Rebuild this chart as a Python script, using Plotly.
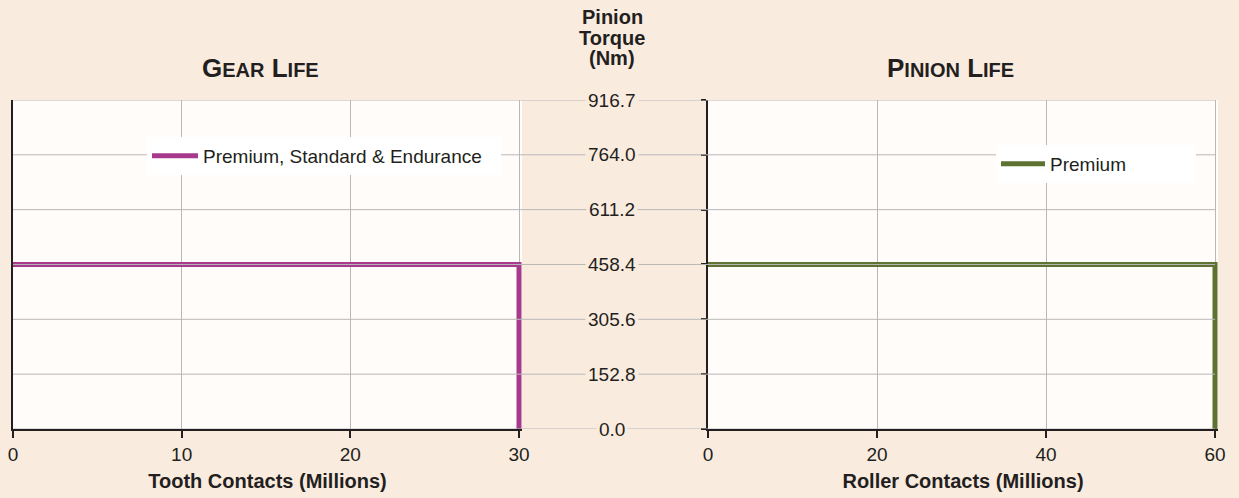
import plotly.graph_objects as go

# ---- data ----
torque_ticks = [0.0, 152.8, 305.6, 458.4, 611.2, 764.0, 916.7]
torque_labels = ["0.0", "152.8", "305.6", "458.4", "611.2", "764.0", "916.7"]

gear_x_ticks = [0, 10, 20, 30]
pinion_x_ticks = [0, 20, 40, 60]

gear_contacts = [0, 30, 30]
gear_torque = [458.4, 458.4, 0]
pinion_contacts = [0, 60, 60]
pinion_torque = [458.4, 458.4, 0]

gear_name = "Premium, Standard & Endurance"
pinion_name = "Premium"

# ---- styling ----
W, H = 1239, 498
BG = "#FAEBDF"
PLOT_BG = "#FFFCF9"
GRID = "#B8B8B8"
DARK = "#231F20"
MAGENTA = "#A83A8E"
GREEN = "#5E7331"
FONT = "Liberation Sans"

def px(x):
    return x / W

def py(y):
    return 1 - y / H

# pixel geometry (axis value 0 -> left edge, last tick -> right edge),
# with a few pixels of extra room so the thick end-lines are not clipped
L0, L1, R0, R1, PAD = 13, 519, 708, 1215, 3
gear_rng = [gear_x_ticks[0], gear_x_ticks[-1] * (1 + PAD / (L1 - L0))]
pin_rng = [pinion_x_ticks[0], pinion_x_ticks[-1] * (1 + PAD / (R1 - R0))]
xl0, xl1 = px(L0), px(L1 + PAD)
xr0, xr1 = px(R0), px(R1 + PAD)
yb, yt = py(429), py(100)

fig = go.Figure()
fig.add_trace(go.Scatter(x=gear_contacts, y=gear_torque, mode="lines", name=gear_name,
                         line=dict(color=MAGENTA, width=5), xaxis="x", yaxis="y",
                         legend="legend", hoverinfo="skip"))
fig.add_trace(go.Scatter(x=pinion_contacts, y=pinion_torque, mode="lines", name=pinion_name,
                         line=dict(color=GREEN, width=5), xaxis="x2", yaxis="y2",
                         legend="legend2", hoverinfo="skip"))

xcommon = dict(showline=True, linecolor=DARK, linewidth=2, ticks="outside", ticklen=7,
               tickwidth=2, tickcolor=DARK, showgrid=True, gridcolor=GRID, gridwidth=1,
               zeroline=False, tickfont=dict(family=FONT, size=19, color=DARK),
               title_font=dict(family=FONT, size=20, color=DARK), title_standoff=10)

ycommon = dict(range=[torque_ticks[0], torque_ticks[-1]], tickvals=torque_ticks,
               showgrid=False, zeroline=False, showticklabels=False, domain=[yb, yt])

fig.update_layout(
    width=W, height=H,
    paper_bgcolor=BG, plot_bgcolor=PLOT_BG,
    margin=dict(l=0, r=0, t=0, b=0, autoexpand=False),
    showlegend=True,
    xaxis=dict(domain=[xl0, xl1], range=gear_rng, tickvals=gear_x_ticks,
               anchor="y", title_text="<b>Tooth Contacts (Millions)</b>", **xcommon),
    xaxis2=dict(domain=[xr0, xr1], range=pin_rng, tickvals=pinion_x_ticks,
                anchor="y2", title_text="<b>Roller Contacts (Millions)</b>", **xcommon),
    yaxis=dict(anchor="x", side="left", showline=True, linecolor=DARK, linewidth=2, ticks="", **ycommon),
    yaxis3=dict(anchor="free", position=px(L1), overlaying="y", side="right", showline=False,
                ticks="outside", ticklen=5, tickwidth=2, tickcolor=DARK, **ycommon),
    yaxis2=dict(anchor="x2", side="left", showline=True, linecolor=DARK, linewidth=2,
                ticks="outside", ticklen=5, tickwidth=2, tickcolor=DARK, **ycommon),
    legend=dict(x=px(147), y=py(137), xanchor="left", yanchor="top", bgcolor="#FFFFFF",
                borderwidth=0, orientation="h", entrywidth=293, itemwidth=46,
                font=dict(family=FONT, size=19, color=DARK)),
    legend2=dict(x=px(996), y=py(145), xanchor="left", yanchor="top", bgcolor="#FFFFFF",
                 borderwidth=0, orientation="h", entrywidth=141, itemwidth=44,
                 font=dict(family=FONT, size=19, color=DARK)),
)

# horizontal gridlines spanning both panels and the centre strip
shapes = []
for v in torque_ticks:
    shapes.append(dict(type="line", xref="paper", yref="y", x0=px(L0), x1=px(R1), y0=v, y1=v,
                       line=dict(color=GRID, width=1), layer="above"))
fig.update_layout(shapes=shapes)

annotations = []
for v, lab in zip(torque_ticks, torque_labels):
    annotations.append(dict(x=px(612), y=v, xref="paper", yref="y", text=lab, showarrow=False,
                            xanchor="center", yanchor="middle", bgcolor=BG, borderpad=2,
                            font=dict(family=FONT, size=19, color=DARK)))

for txt, yy in [("Pinion", 17), ("Torque", 38), ("(Nm)", 58)]:
    annotations.append(dict(x=px(612), y=py(yy), xref="paper", yref="paper", text="<b>" + txt + "</b>",
                            showarrow=False, xanchor="center", yanchor="middle",
                            font=dict(family=FONT, size=20, color=DARK)))

def smallcaps(word_pairs):
    parts = []
    for big, small in word_pairs:
        parts.append(big + "<span style='font-size:20px'>" + small + "</span>")
    return "<b>" + " ".join(parts) + "</b>"

annotations.append(dict(x=px(260), y=py(68), xref="paper", yref="paper",
                        text=smallcaps([("G", "EAR"), ("L", "IFE")]), showarrow=False,
                        xanchor="center", yanchor="middle", font=dict(family=FONT, size=26, color=DARK)))
annotations.append(dict(x=px(950), y=py(68), xref="paper", yref="paper",
                        text=smallcaps([("P", "INION"), ("L", "IFE")]), showarrow=False,
                        xanchor="center", yanchor="middle", font=dict(family=FONT, size=26, color=DARK)))
fig.update_layout(annotations=annotations)

fig.write_html("out.html", config={"displayModeBar": False},
               post_script="document.body.style.margin='0';")
